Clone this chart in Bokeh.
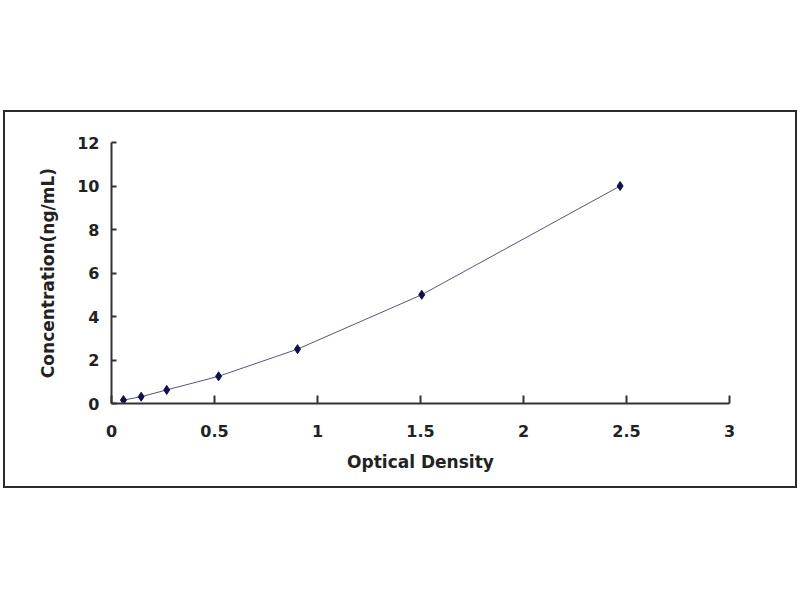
from bokeh.plotting import figure
from bokeh.layouts import column, row
from bokeh.models import Spacer, Range1d, FixedTicker
from bokeh.embed import file_html
from bokeh.resources import INLINE

# standard curve points
optical_density = [0.058, 0.144, 0.268, 0.52, 0.903, 1.506, 2.469]
concentration = [0.156, 0.312, 0.625, 1.25, 2.5, 5, 10]

x_ticks = [0, 0.5, 1, 1.5, 2, 2.5, 3]
y_ticks = [0, 2, 4, 6, 8, 10, 12]

p = figure(
    width=794,
    height=378,
    x_range=Range1d(0, 3),
    y_range=Range1d(0, 12),
    output_backend="svg",
    toolbar_location=None,
    min_border_left=106,
    min_border_right=70,
    min_border_top=30,
    min_border_bottom=87,
)
p.styles = {"border": "2px solid #2a2a2a", "box-sizing": "border-box"}

p.line(optical_density, concentration, line_width=1, color="#56567a")
p.scatter(optical_density, concentration, marker="diamond", size=9, color="#101050")

p.xgrid.visible = False
p.ygrid.visible = False
p.outline_line_color = None

p.xaxis.ticker = FixedTicker(ticks=x_ticks)
p.yaxis.ticker = FixedTicker(ticks=y_ticks)
p.xaxis.major_label_overrides = {0: "0", 0.5: "0.5", 1: "1", 1.5: "1.5", 2: "2", 2.5: "2.5", 3: "3"}

p.xaxis.axis_label = "Optical Density"
p.yaxis.axis_label = "Concentration(ng/mL)"

for ax in (p.xaxis[0], p.yaxis[0]):
    ax.axis_line_color = "#333333"
    ax.axis_line_width = 2
    ax.major_tick_line_color = "#333333"
    ax.major_tick_line_width = 2
    ax.major_tick_in = 8
    ax.major_tick_out = 0
    ax.minor_tick_line_color = None
    ax.major_label_text_font = "DejaVu Sans"
    ax.major_label_text_font_style = "bold"
    ax.major_label_text_font_size = "16px"
    ax.major_label_text_color = "#222222"
    ax.axis_label_text_font = "DejaVu Sans"
    ax.axis_label_text_font_style = "bold"
    ax.axis_label_text_font_size = "17px"
    ax.axis_label_text_color = "#222222"

p.yaxis.major_tick_in = 5
p.xaxis.major_label_standoff = 21
p.xaxis.axis_label_standoff = 12
p.yaxis.major_label_standoff = 12
p.yaxis.axis_label_standoff = 16

layout = column(Spacer(height=110), row(Spacer(width=3), p))

open("out.html", "w").write(file_html(layout, INLINE))
